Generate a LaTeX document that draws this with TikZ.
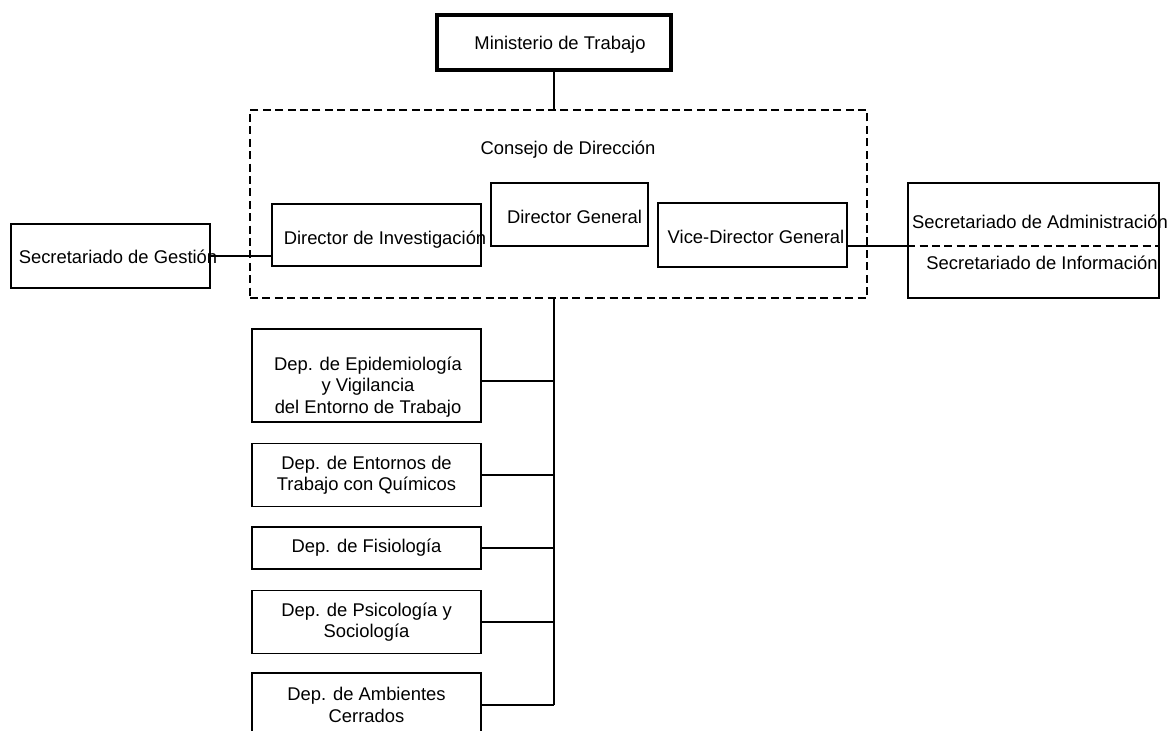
\documentclass[tikz,border=0pt]{standalone}
\usepackage{fontspec}
\setmainfont{Liberation Sans}
\begin{document}
\begin{tikzpicture}[x=0.5pt, y=-0.5pt, line width=0.8pt,
    font=\fontsize{9.2}{10.6}\selectfont,
    box/.style = {draw, line width=0.9pt, inner sep=0pt, align=center},
    dep/.style = {box, minimum width=114.5pt},
    txt/.style = {inner sep=0pt, align=center},
    dashbox/.style = {draw, line width=1.4pt, dash pattern=on 4pt off 2.2pt}]
    \useasboundingbox (0,0) rectangle (1176,730);
    \clip (0,0) rectangle (1176,730);

    \node[box, line width=2.25pt, minimum width=117pt, minimum height=27.5pt] (min) at (554,42.5) {};
    \node[txt] (mintxt) at (560,45) {Ministerio de Trabajo};

    \node[dashbox, minimum width=308.5pt, minimum height=94pt] (cd) at (558.5,204) {};
    \node[txt] (cdtxt) at (568,150) {Consejo de Dirección};

    \node[box, minimum width=104.5pt, minimum height=31pt] (inv) at (376.5,235) {};
    \node[txt] (invtxt) at (385,240) {Director de Investigación};
    \node[box, minimum width=78.5pt, minimum height=31.5pt] (dg) at (569.5,214.5) {};
    \node[txt] (dgtxt) at (574.5,217) {Director General};
    \node[box, minimum width=94.5pt, minimum height=32pt] (vdg) at (752.5,235) {};
    \node[txt] (vdgtxt) at (756,237) {Vice-Director General};

    \node[box, minimum width=99.5pt, minimum height=32pt] (sg) at (110.5,256) {};
    \node[txt] (sgtxt) at (118,257) {Secretariado de Gestión};

    \node[box, minimum width=125.5pt, minimum height=57.5pt] (sec) at (1033.5,240.5) {};
    \node[txt] (satxt) at (1040,222) {Secretariado de Administración};
    \node[txt] (sitxt) at (1042,263) {Secretariado de Información};
    \coordinate (div) at (sec.west |- 0,246);
    \draw[dashbox] (div) -- (div -| sec.east);

    \node[dep, minimum height=46.5pt] (d1) at (366.5,375.5) {};
    \node[txt] (d1txt) at (368,387) {Dep. de Epidemiología\\y Vigilancia\\del Entorno de Trabajo};
    \node[dep, minimum height=31.5pt] (d2) at (366.5,475) {Dep. de Entornos de\\Trabajo con Químicos};
    \node[dep, minimum height=21pt] (d3) at (366.5,548) {Dep. de Fisiología};
    \node[dep, minimum height=31.5pt] (d4) at (366.5,622) {Dep. de Psicología y\\Sociología};
    \node[dep, minimum height=32pt] (d5) at (366.5,705) {Dep. de Ambientes\\Cerrados};

    \draw (min.south) -- (cd.north -| min.south);
    \draw (cd.south -| min.south) -- (d5.east -| min.south);
    \draw ([yshift=-2.75pt]d1.east) -- ([yshift=-2.75pt]d1.east -| min.south);
    \foreach \d in {d2,d3,d4,d5}
        \draw (\d.east) -- (\d.east -| min.south);
    \draw (sg.east) -- (sg.east -| inv.west);
    \draw (vdg.east |- div) -- (div);
\end{tikzpicture}
\end{document}
